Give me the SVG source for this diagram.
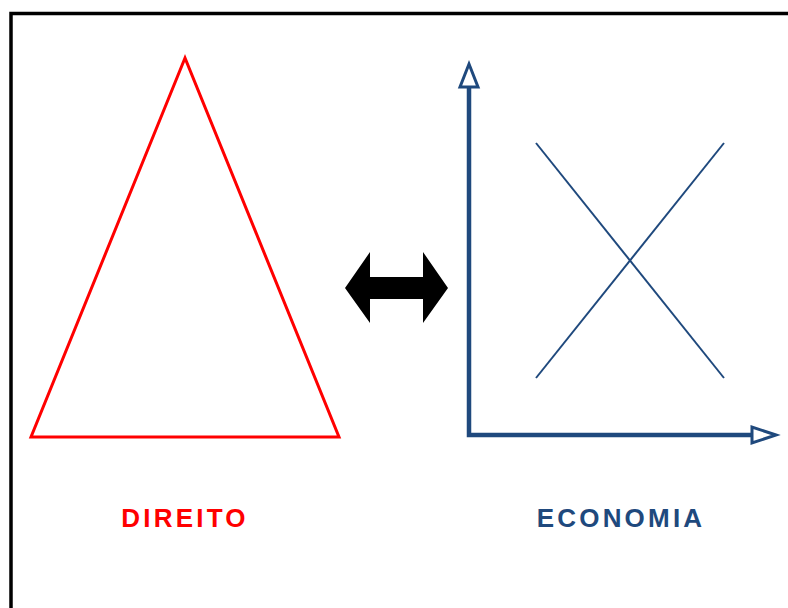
<svg xmlns="http://www.w3.org/2000/svg" width="788" height="608" viewBox="0 0 788 608">
<style>
.lbl{font-family:"Liberation Sans",Arial,sans-serif;font-weight:bold;font-size:26px;letter-spacing:3.2px;text-anchor:middle}
.axis{fill:none;stroke:#1F497D;stroke-width:4.5}
.head{fill:#fff;stroke:#1F497D;stroke-width:3;stroke-linejoin:miter}
.curve{stroke:#1F497D;stroke-width:2;fill:none}
</style>
<rect width="788" height="608" fill="#fff"/>
<path d="M11,608 V13.5 H788" fill="none" stroke="#000" stroke-width="3.5"/>
<g id="direito">
<polygon points="185,58 31,437 339,437" fill="none" stroke="#FF0000" stroke-width="3"/>
<text class="lbl" x="185" y="527" fill="#FF0000">DIREITO</text>
</g>
<g id="connectors">
<polygon points="345,288 370,252 370,277 423,277 423,252 448,288 423,323 423,299 370,299 370,323" fill="#000"/>
</g>
<g id="economia">
<polyline class="axis" points="469,87 469,435 752,435"/>
<polygon class="head" points="469,64 478,87 460,87"/>
<polygon class="head" points="776,435 752,427 752,443"/>
<line class="curve" x1="536" y1="143" x2="724" y2="378"/>
<line class="curve" x1="724" y1="143" x2="536" y2="378"/>
<text class="lbl" x="621" y="527" fill="#1F497D">ECONOMIA</text>
</g>
</svg>
